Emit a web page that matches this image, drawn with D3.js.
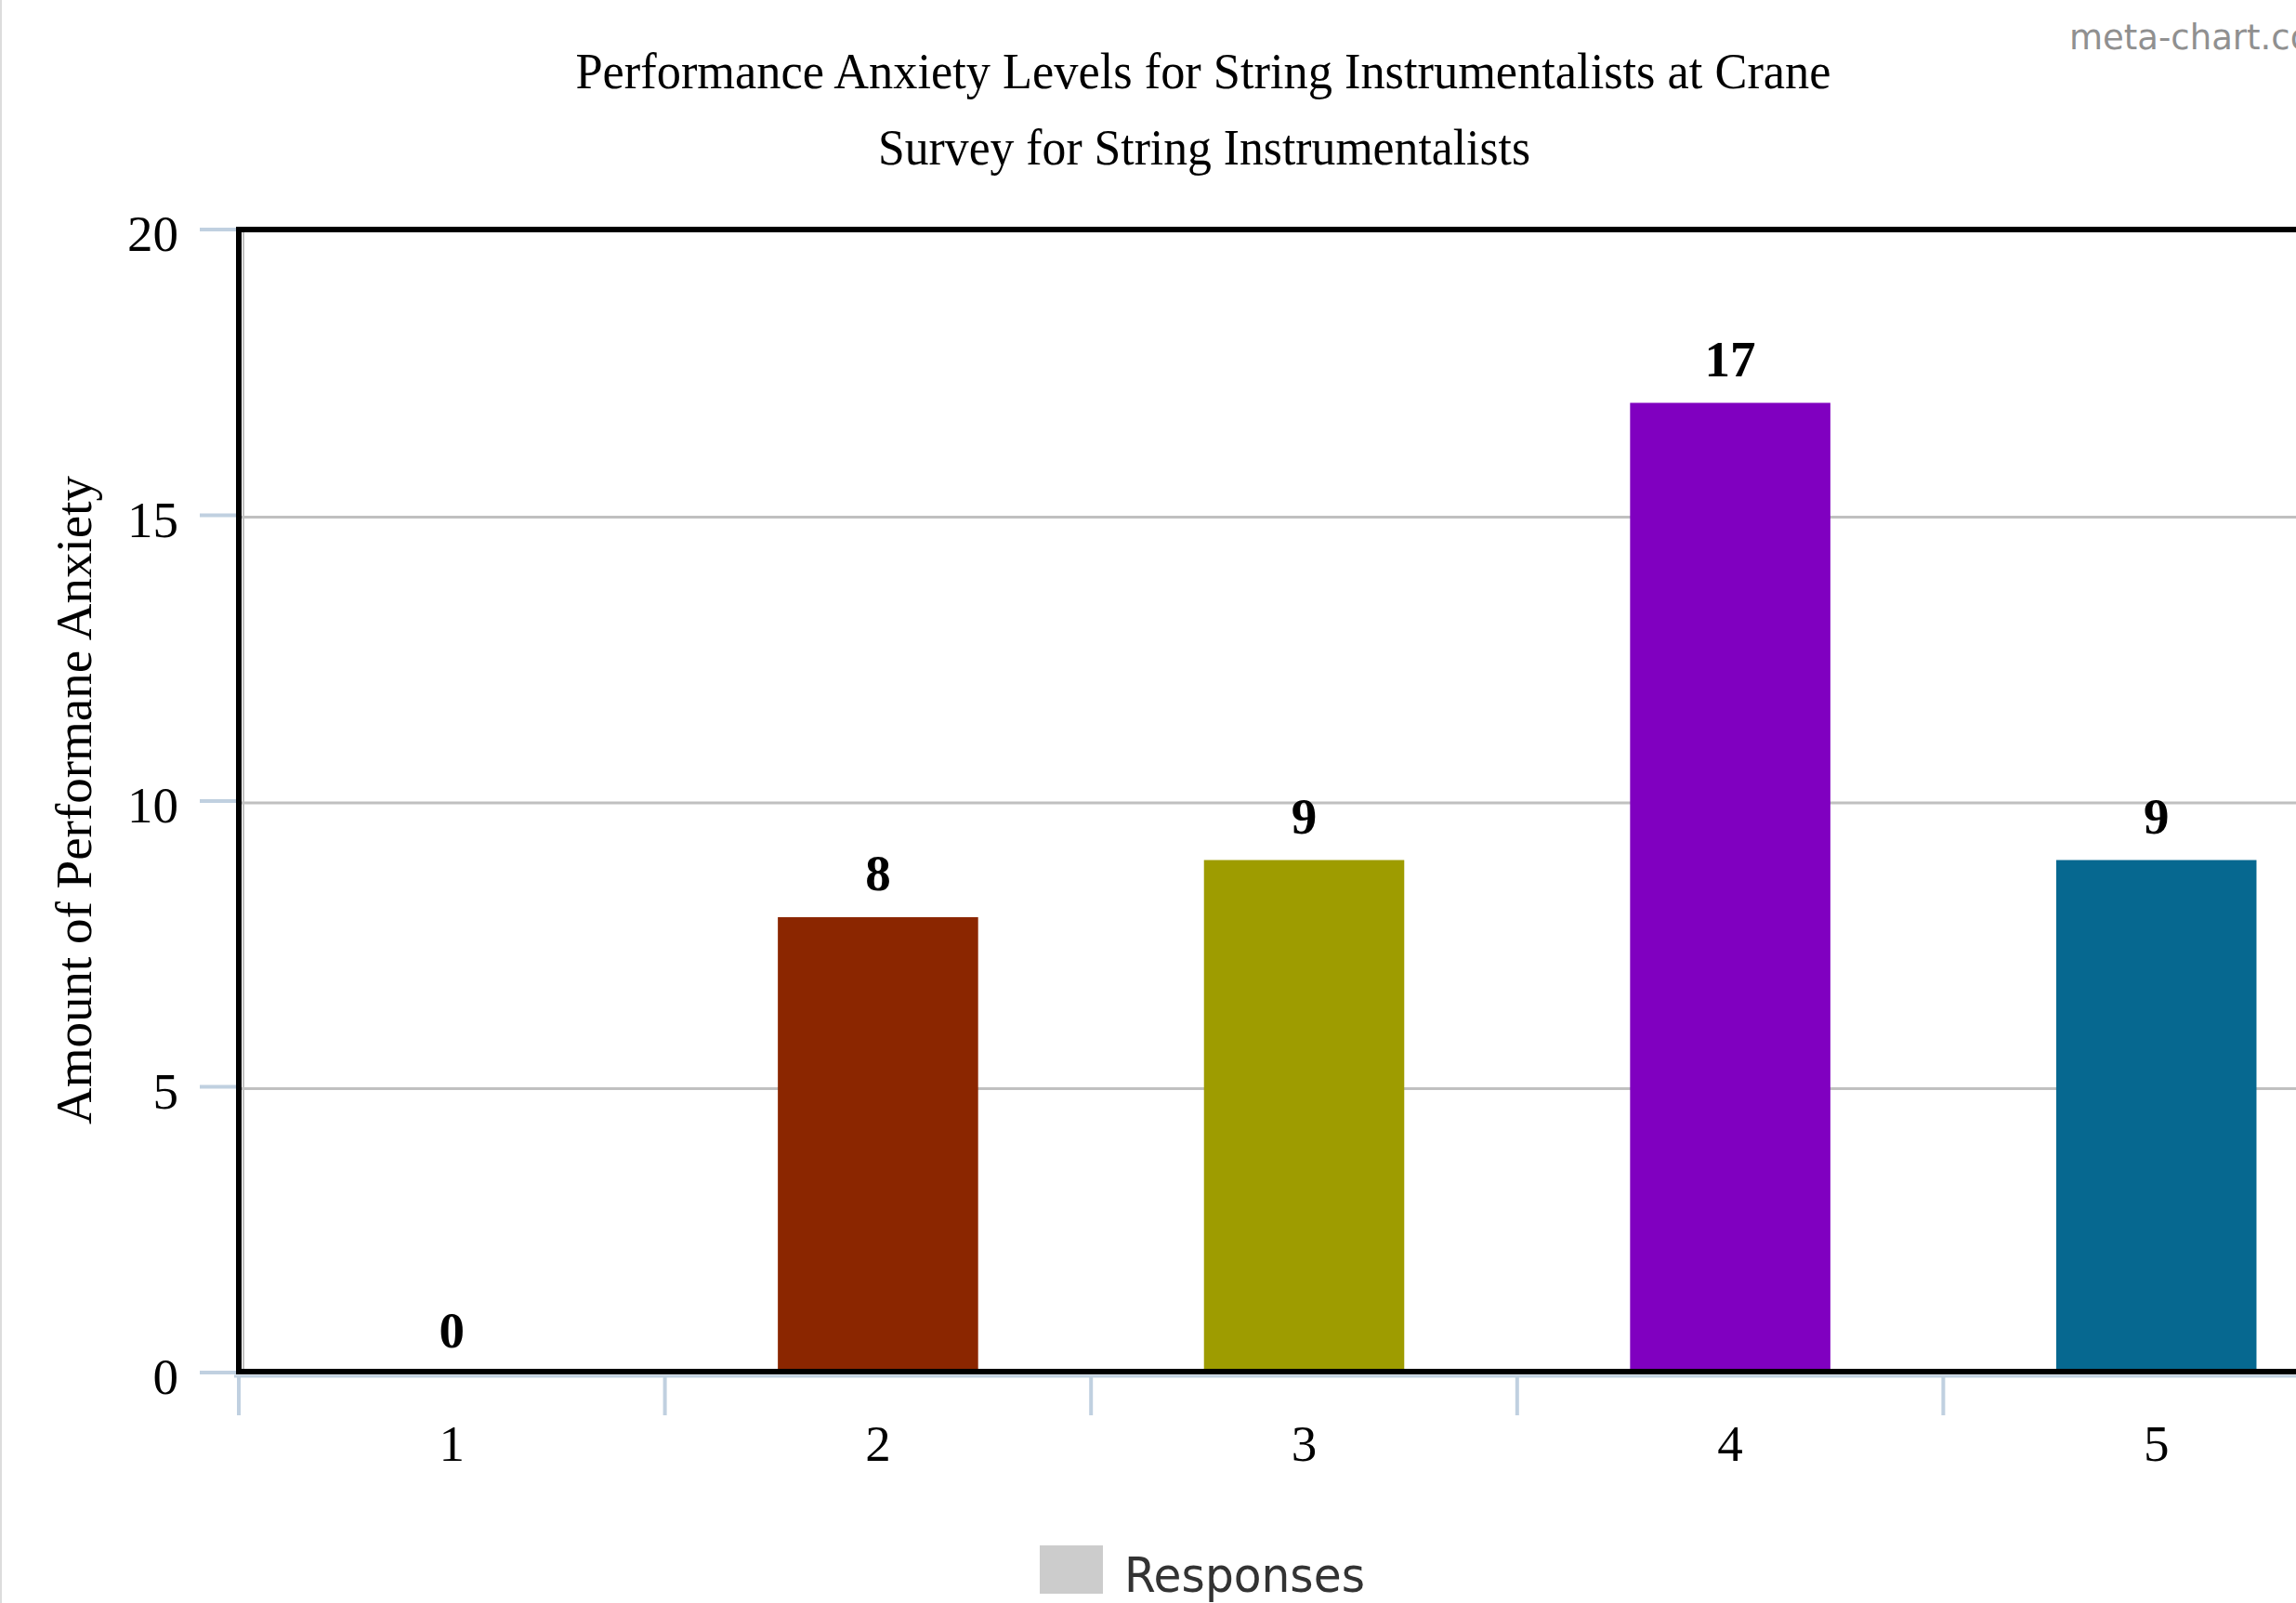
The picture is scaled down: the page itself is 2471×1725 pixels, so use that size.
<!DOCTYPE html>
<html>
<head>
<meta charset="utf-8">
<script src="https://cdn.jsdelivr.net/npm/d3@7"></script>
<style>
  html, body { margin: 0; padding: 0; background: #fff; overflow: hidden; }
  svg { display: block; }
</style>
</head>
<body>
<script>
const categories = ["1", "2", "3", "4", "5"];
const values = [0, 8, 9, 17, 9];
const barColors = ["#2f7ed8", "#8b2600", "#9e9c00", "#8000c0", "#066890"];
const yTicks = [0, 5, 10, 15, 20];
const titleText = "Performance Anxiety Levels for String Instrumentalists at Crane";
const subtitleText = "Survey for String Instrumentalists";
const yAxisTitle = "Amount of Performane Anxiety";
const seriesName = "Responses";
const watermark = "meta-chart.com";

const W = 2471, H = 1725;
const plotLeft = 257, plotTop = 249, plotBottom = 1479;
const bandW = 458.6;
const plotRight = plotLeft + bandW * categories.length;

const svg = d3.select("body").append("svg").attr("width", W).attr("height", H);

// page edge line
svg.append("line").attr("x1", 1).attr("x2", 1).attr("y1", 0).attr("y2", H)
  .attr("stroke", "#dcdcdc").attr("stroke-width", 2);

const x = d3.scaleBand().domain(categories).range([plotLeft, plotRight]).padding(0);
const y = d3.scaleLinear().domain([0, 20]).range([plotBottom, plotTop]);
const barW = x.bandwidth() * 0.47;

// gridlines
svg.append("g").selectAll("line").data(yTicks.filter(t => t > 0 && t < 20)).join("line")
  .attr("x1", plotLeft).attr("x2", plotRight)
  .attr("y1", d => y(d)).attr("y2", d => y(d))
  .attr("stroke", "#c0c0c0").attr("stroke-width", 3);

// inner grey line along left border
svg.append("line").attr("x1", plotLeft + 5).attr("x2", plotLeft + 5)
  .attr("y1", plotTop).attr("y2", plotBottom).attr("stroke", "#c0c0c0").attr("stroke-width", 2);

// bars
svg.append("g").selectAll("rect").data(categories).join("rect")
  .attr("x", (d) => x(d) + (x.bandwidth() - barW) / 2)
  .attr("width", barW)
  .attr("y", (d, i) => y(values[i]))
  .attr("height", (d, i) => y(0) - y(values[i]))
  .attr("fill", (d, i) => barColors[i]);

// value labels
svg.append("g").selectAll("text").data(categories).join("text")
  .attr("x", d => x(d) + x.bandwidth() / 2)
  .attr("y", (d, i) => y(values[i]) - 29)
  .attr("text-anchor", "middle")
  .attr("font-family", "Liberation Serif, serif")
  .attr("font-weight", "bold")
  .attr("font-size", 55)
  .attr("fill", "#000")
  .text((d, i) => values[i]);

// Y axis ticks (light blue)
svg.append("g").selectAll("line").data(yTicks).join("line")
  .attr("x1", plotLeft - 42).attr("x2", plotLeft)
  .attr("y1", d => y(d) - 2).attr("y2", d => y(d) - 2)
  .attr("stroke", "#c0d0e0").attr("stroke-width", 4);

// Y tick labels
svg.append("g").selectAll("text").data(yTicks).join("text")
  .attr("x", 192)
  .attr("y", d => y(d) + 21)
  .attr("text-anchor", "end")
  .attr("font-family", "Liberation Serif, serif")
  .attr("font-size", 55)
  .attr("fill", "#000")
  .text(d => d);

// X axis line (light blue) and ticks
svg.append("line").attr("x1", plotLeft - 5).attr("x2", plotRight)
  .attr("y1", plotBottom + 2).attr("y2", plotBottom + 2)
  .attr("stroke", "#c0d0e0").attr("stroke-width", 3);
const xTickPos = categories.map(c => x(c));
svg.append("g").selectAll("line").data(xTickPos).join("line")
  .attr("x1", d => d).attr("x2", d => d)
  .attr("y1", plotBottom + 2).attr("y2", plotBottom + 44)
  .attr("stroke", "#c0d0e0").attr("stroke-width", 4);

// X tick labels
svg.append("g").selectAll("text").data(categories).join("text")
  .attr("x", d => x(d) + x.bandwidth() / 2)
  .attr("y", 1572)
  .attr("text-anchor", "middle")
  .attr("font-family", "Liberation Serif, serif")
  .attr("font-size", 55)
  .attr("fill", "#000")
  .text(d => d);

// plot frame
svg.append("rect").attr("x", plotLeft).attr("y", plotTop - 2)
  .attr("width", plotRight - plotLeft).attr("height", plotBottom - plotTop - 1)
  .attr("fill", "none").attr("stroke", "#000").attr("stroke-width", 6);

// titles
svg.append("text").attr("x", 1295).attr("y", 95).attr("text-anchor", "middle")
  .attr("font-family", "Liberation Serif, serif").attr("font-size", 54).attr("fill", "#000")
  .attr("textLength", 1351).attr("lengthAdjust", "spacingAndGlyphs")
  .text(titleText);
svg.append("text").attr("x", 1296).attr("y", 177).attr("text-anchor", "middle")
  .attr("font-family", "Liberation Serif, serif").attr("font-size", 54).attr("fill", "#000")
  .attr("textLength", 702).attr("lengthAdjust", "spacingAndGlyphs")
  .text(subtitleText);

// y axis title
svg.append("text")
  .attr("transform", "translate(98,861) rotate(-90)")
  .attr("text-anchor", "middle")
  .attr("font-family", "Liberation Serif, serif").attr("font-size", 55).attr("fill", "#000")
  .attr("textLength", 698).attr("lengthAdjust", "spacingAndGlyphs")
  .text(yAxisTitle);

// legend
svg.append("rect").attr("x", 1119).attr("y", 1663).attr("width", 68).attr("height", 52)
  .attr("fill", "#cccccc");
svg.append("text").attr("x", 1210).attr("y", 1713)
  .attr("font-family", "DejaVu Sans, sans-serif").attr("font-size", 52).attr("fill", "#333")
  .attr("textLength", 259).attr("lengthAdjust", "spacingAndGlyphs")
  .text(seriesName);

// watermark
svg.append("text").attr("x", 2227).attr("y", 53)
  .attr("font-family", "DejaVu Sans, sans-serif").attr("font-size", 37).attr("fill", "#909090")
  .text(watermark);
</script>
</body>
</html>
